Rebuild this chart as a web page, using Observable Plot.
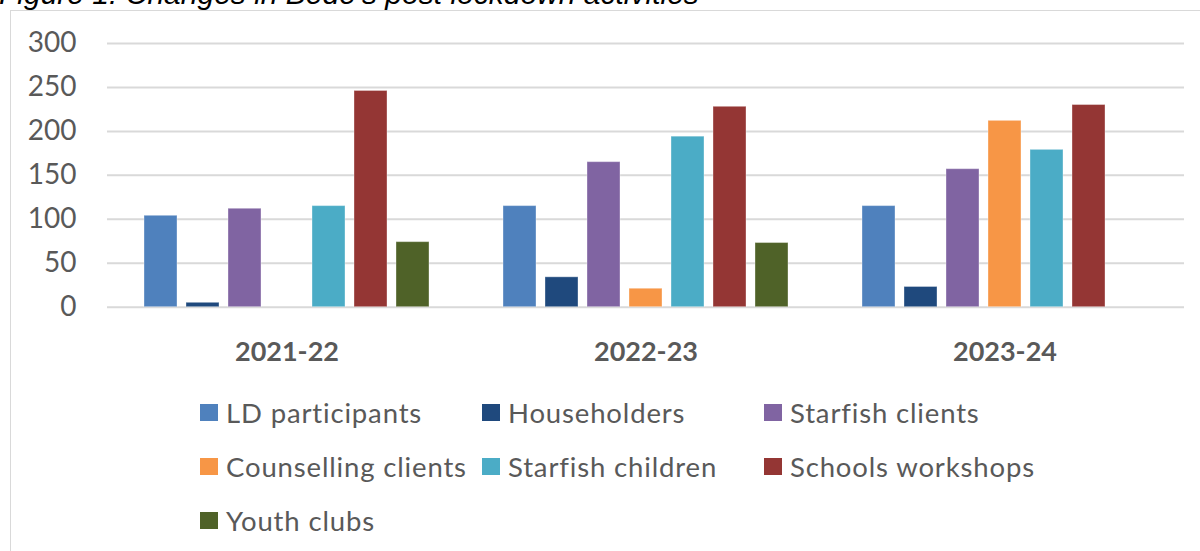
<!DOCTYPE html>
<html>
<head>
<meta charset="utf-8">
<script src="https://cdn.jsdelivr.net/npm/d3@7"></script>
<script src="https://cdn.jsdelivr.net/npm/@observablehq/plot@0.6"></script>
<style>
  html, body { margin: 0; padding: 0; background: #fff; overflow: hidden; }
  #wrap { position: relative; width: 1200px; height: 551px; overflow: hidden; }
  #title { position: absolute; left: -1px; top: -21px; font-family: "Liberation Sans", Arial, sans-serif; font-style: italic; font-size: 30px; line-height: 30px; color: #000; white-space: nowrap; }
  #frame { position: absolute; left: 10px; top: 10px; width: 1200px; height: 560px; border-top: 1.5px solid #d9d9d9; border-left: 1.5px solid #d9d9d9; box-sizing: border-box; }
  #chart { position: absolute; left: 0; top: 0; }
  #legend { position: absolute; left: 200px; top: 385px; display: grid; grid-template-columns: 282px 282px auto; grid-auto-rows: 54px; font-family: Lato, sans-serif; font-size: 27.5px; letter-spacing: 0.85px; color: #595959; }
  .item { display: flex; align-items: center; white-space: nowrap; }
  .sw { width: 18px; height: 17px; margin-right: 8px; flex: none; }
</style>
</head>
<body>
<div id="wrap">
  <div id="title">Figure 1: Changes in Bede’s post lockdown activities</div>
  <div id="frame"></div>
  <div id="chart"></div>
  <div id="legend"></div>
</div>
<script>
const years = ["2021-22", "2022-23", "2023-24"];
const series = ["LD participants", "Householders", "Starfish clients", "Counselling clients", "Starfish children", "Schools workshops", "Youth clubs"];
const colors = ["#4F81BD", "#1F497D", "#8064A2", "#F79646", "#4BACC6", "#943634", "#4F6228"];

const ldParticipants     = [104, 115, 115];
const householders       = [5, 34, 23];
const starfishClients    = [112, 165, 157];
const counsellingClients = [null, 21, 212];
const starfishChildren   = [115, 194, 179];
const schoolsWorkshops   = [246, 228, 230];
const youthClubs         = [74, 73, null];

const yTicks = [0, 50, 100, 150, 200, 250, 300];

const seriesValues = [ldParticipants, householders, starfishClients, counsellingClients, starfishChildren, schoolsWorkshops, youthClubs];
const data = [];
years.forEach((yr, i) => {
  series.forEach((s, j) => {
    const v = seriesValues[j][i];
    if (v != null) data.push({year: yr, series: s, value: v});
  });
});

const chart = Plot.plot({
  width: 1200,
  height: 380,
  marginTop: 43,
  marginBottom: 73.3,
  marginLeft: 106,
  marginRight: 15,
  style: {background: "transparent", color: "#595959", fontFamily: "Lato, sans-serif"},
  fx: {domain: years, padding: 0, label: null},
  x: {domain: series, paddingInner: 0.22, paddingOuter: 0.85, axis: null},
  y: {domain: [0, 300], label: null},
  color: {domain: series, range: colors},
  marks: [
    Plot.ruleY(yTicks, {stroke: "#d9d9d9", strokeWidth: 2}),
    Plot.barY(data, {fx: "year", x: "series", y: "value", fill: "series", stroke: "white", strokeOpacity: 0.35, strokeWidth: 1}),
    Plot.axisY(yTicks, {tickSize: 0, tickPadding: 31, fontSize: 28, label: null}),
    Plot.axisFx({anchor: "bottom", tickSize: 0, tickPadding: 35, fontSize: 27, fontWeight: "bold", label: null})
  ]
});
document.getElementById("chart").appendChild(chart);

const legend = document.getElementById("legend");
series.forEach((s, i) => {
  const item = document.createElement("div");
  item.className = "item";
  const sw = document.createElement("span");
  sw.className = "sw";
  sw.style.background = colors[i];
  const t = document.createElement("span");
  t.textContent = s;
  item.appendChild(sw);
  item.appendChild(t);
  legend.appendChild(item);
});
</script>
</body>
</html>
